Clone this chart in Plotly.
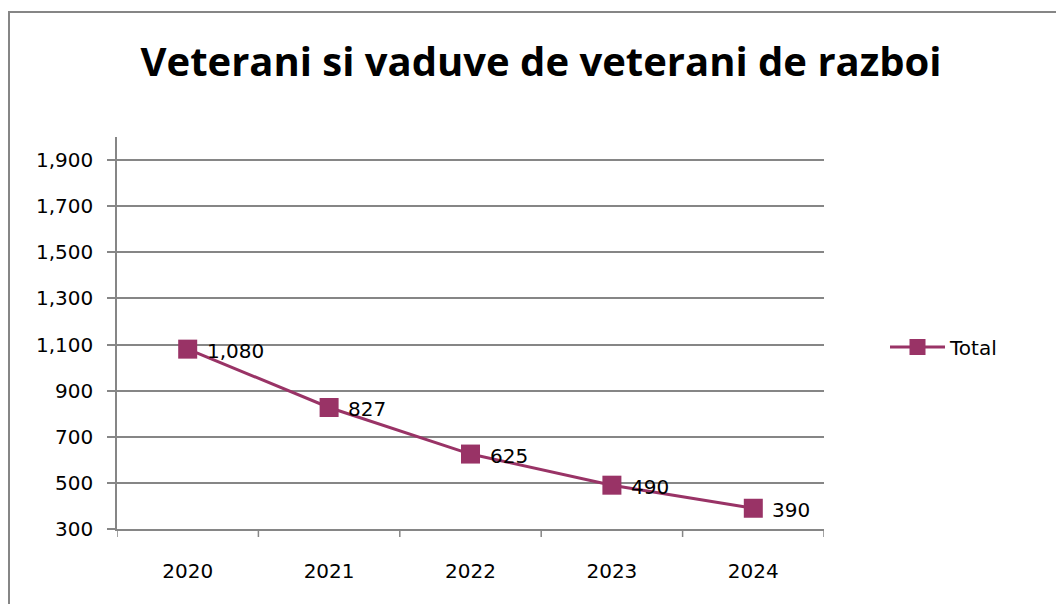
import plotly.graph_objects as go

years = ["2020", "2021", "2022", "2023", "2024"]
totals = [1080, 827, 625, 490, 390]
labels = ["1,080", "827", "625", "490", "390"]
y_ticks = [300, 500, 700, 900, 1100, 1300, 1500, 1700, 1900]
y_ticktext = ["300", "500", "700", "900", "1,100", "1,300", "1,500", "1,700", "1,900"]

color = "#993366"
grid = "#868686"
FONT = "DejaVu Sans"
FS = 20

fig = go.Figure()
fig.add_trace(go.Scatter(
    x=list(range(len(years))), y=totals, mode="lines+markers", name="Total",
    line=dict(color=color, width=3),
    marker=dict(symbol="square", size=19, color=color),
    cliponaxis=False,
))

for i, (v, t) in enumerate(zip(totals, labels)):
    fig.add_annotation(x=i, y=v, text=t, showarrow=False, xanchor="left",
                       yanchor="middle", xshift=17, yshift=-2,
                       font=dict(family=FONT, size=FS, color="black"))

# screen coordinates of plot area; page has 8px body offset
OFF = 8
L, R, T, B = 117, 824, 137, 529
W, H = 1064 - OFF, 604 - OFF
pw, ph = R - L, B - T

def px(x):
    return (x - L) / pw

def py(y):
    return (B - y) / ph

fig.update_layout(
    width=W, height=H,
    margin=dict(l=L - OFF, r=W - (R - OFF), t=T - OFF, b=H - (B - OFF), autoexpand=False),
    paper_bgcolor="white", plot_bgcolor="white",
    title=dict(text="<b>Veterani si vaduve de veterani de razboi</b>",
               x=(541 - OFF) / W, xref="container", xanchor="center",
               y=1 - (62 - OFF) / H, yref="container", yanchor="middle",
               font=dict(family="Open Sans", size=40, color="black")),
    showlegend=True,
    legend=dict(x=px(885), y=py(347), xanchor="left", yanchor="middle",
                font=dict(family=FONT, size=20, color="black"),
                bgcolor="rgba(0,0,0,0)", itemwidth=55),
    xaxis=dict(range=[-0.5, 4.5], tickmode="array", tickvals=list(range(len(years))),
               ticktext=years, showgrid=False, zeroline=False,
               showline=True, linecolor=grid, linewidth=1.5,
               ticks="", tickfont=dict(family=FONT, size=FS, color="black"),
               ticklabelstandoff=23),
    yaxis=dict(range=[300, 2000], tickmode="array", tickvals=y_ticks, ticktext=y_ticktext,
               showgrid=True, gridcolor=grid, gridwidth=1.5, zeroline=False,
               showline=True, linecolor=grid, linewidth=1.5,
               ticks="outside", ticklen=8, tickcolor=grid, tickwidth=1.5,
               ticklabelstandoff=10,
               tickfont=dict(family=FONT, size=FS, color="black")),
)

# category boundary tick marks on x axis
for i in range(len(years) + 1):
    fig.add_shape(type="line", xref="x", yref="paper",
                  x0=i - 0.5, x1=i - 0.5, y0=0, y1=py(537),
                  line=dict(color=grid, width=1.5))

# outer chart border
fig.add_shape(type="rect", xref="paper", yref="paper",
              x0=px(9), x1=px(1075), y0=py(615), y1=py(12),
              line=dict(color=grid, width=2), layer="below")

fig.write_html("out.html")
